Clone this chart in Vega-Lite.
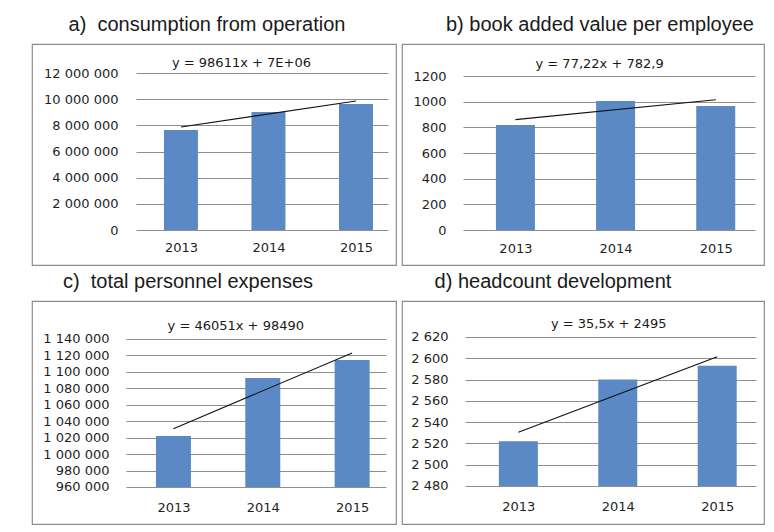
{
  "$schema": "https://vega.github.io/schema/vega-lite/v6.json",
  "background": "white",
  "padding": {"left": 31, "top": 14, "right": 5, "bottom": 2},
  "autosize": {"type": "pad"},
  "spacing": 5,
  "vconcat": [
    {
      "spacing": 4,
      "hconcat": [
        {
          "width": 364, "height": 221,
          "title": {"text": "a)\u00a0 consumption from operation", "dx": -7},
          "resolve": {"axis": {"x": "independent", "y": "independent"}},
          "layer": [
            {"data": {"values": [
              {"year": 2013, "value": 7640000},
              {"year": 2014, "value": 9020000},
              {"year": 2015, "value": 9630000}
            ]},
             "mark": {"type": "bar", "width": 34, "color": "#5b89c6"},
             "encoding": {
              "x": {"field": "year", "type": "quantitative", "title": null,
                "scale": {"domain": [2011.3556, 2015.4], "nice": false, "zero": false},
                "axis": {"values": [2013, 2014, 2015], "format": "d", "offset": -35, "ticks": false, "labelPadding": 11, "grid": false, "domain": false}},
              "y": {"field": "value", "type": "quantitative", "title": null,
                "scale": {"domain": [-2675159, 14216561], "nice": false, "zero": false},
                "axis": {"values": [0, 2000000, 4000000, 6000000, 8000000, 10000000, 12000000], "format": ",d", "offset": -104, "tickSize": -252, "labelPadding": 270, "grid": false, "domain": false, "labelOverlap": false}},
              "y2": {"datum": 0}
             }},
            {"data": {"values": [{"year": 2013, "value": 7873000}, {"year": 2015, "value": 9860000}]},
             "mark": {"type": "line", "color": "#111111", "strokeWidth": 1.1},
             "encoding": {"x": {"field": "year", "type": "quantitative", "axis": null}, "y": {"field": "value", "type": "quantitative", "axis": null}}},
            {"data": {"values": [{"label": "y = 98611x + 7E+06"}]},
             "mark": {"type": "text", "baseline": "bottom", "dx": -27, "dy": -3, "font": "DejaVu Sans", "fontSize": 13, "fill": "#1a1a1a"},
             "encoding": {"x": {"datum": 2014, "axis": null}, "y": {"datum": 12000000, "axis": null}, "text": {"field": "label", "type": "nominal"}}}
          ]
        },
        {
          "width": 362, "height": 221,
          "title": {"text": "b) book added value per employee", "dx": 17},
          "resolve": {"axis": {"x": "independent", "y": "independent"}},
          "layer": [
            {"data": {"values": [
              {"year": 2013, "value": 818},
              {"year": 2014, "value": 1005},
              {"year": 2015, "value": 966}
            ]},
             "mark": {"type": "bar", "width": 39, "color": "#5b89c6"},
             "encoding": {
              "x": {"field": "year", "type": "quantitative", "title": null,
                "scale": {"domain": [2011.9175, 2015.432], "nice": false, "zero": false},
                "axis": {"values": [2013, 2014, 2015], "format": "d", "offset": -35, "ticks": false, "labelPadding": 12, "grid": false, "domain": false}},
              "y": {"field": "value", "type": "quantitative", "title": null,
                "scale": {"domain": [-272.7, 1449.4], "nice": false, "zero": false},
                "axis": {"values": [0, 200, 400, 600, 800, 1000, 1200], "format": "d", "offset": -61, "tickSize": -292, "labelPadding": 309, "grid": false, "domain": false, "labelOverlap": false}},
              "y2": {"datum": 0}
             }},
            {"data": {"values": [{"year": 2013, "value": 860.1}, {"year": 2015, "value": 1014.5}]},
             "mark": {"type": "line", "color": "#111111", "strokeWidth": 1.1},
             "encoding": {"x": {"field": "year", "type": "quantitative", "axis": null}, "y": {"field": "value", "type": "quantitative", "axis": null}}},
            {"data": {"values": [{"label": "y = 77,22x + 782,9"}]},
             "mark": {"type": "text", "baseline": "bottom", "dx": -16, "dy": -5, "font": "DejaVu Sans", "fontSize": 13, "fill": "#1a1a1a"},
             "encoding": {"x": {"datum": 2014, "axis": null}, "y": {"datum": 1200, "axis": null}, "text": {"field": "label", "type": "nominal"}}}
          ]
        }
      ]
    },
    {
      "spacing": 4,
      "hconcat": [
        {
          "width": 364, "height": 223,
          "title": {"text": "c)\u00a0 total personnel expenses", "dx": -26},
          "resolve": {"axis": {"x": "independent", "y": "independent"}},
          "layer": [
            {"data": {"values": [
              {"year": 2013, "value": 1022000},
              {"year": 2014, "value": 1092600},
              {"year": 2015, "value": 1114500}
            ]},
             "mark": {"type": "bar", "width": 35, "color": "#5b89c6"},
             "encoding": {
              "x": {"field": "year", "type": "quantitative", "title": null,
                "scale": {"domain": [2011.473, 2015.435], "nice": false, "zero": false},
                "axis": {"values": [2013, 2014, 2015], "format": "d", "offset": -37, "ticks": false, "labelPadding": 14, "grid": false, "domain": false}},
              "y": {"field": "value", "type": "quantitative", "title": null,
                "scale": {"domain": [915000, 1186216], "nice": false, "zero": false},
                "axis": {"values": [960000, 980000, 1000000, 1020000, 1040000, 1060000, 1080000, 1100000, 1120000, 1140000], "format": ",d", "offset": -94, "tickSize": -260, "labelPadding": 277, "grid": false, "domain": false, "labelOverlap": false}},
              "y2": {"datum": 960000}
             }},
            {"data": {"values": [{"year": 2013, "value": 1030951}, {"year": 2015, "value": 1123053}]},
             "mark": {"type": "line", "color": "#111111", "strokeWidth": 1.1},
             "encoding": {"x": {"field": "year", "type": "quantitative", "axis": null}, "y": {"field": "value", "type": "quantitative", "axis": null}}},
            {"data": {"values": [{"label": "y = 46051x + 98490"}]},
             "mark": {"type": "text", "baseline": "bottom", "dx": -27, "dy": -6, "font": "DejaVu Sans", "fontSize": 13, "fill": "#1a1a1a"},
             "encoding": {"x": {"datum": 2014, "axis": null}, "y": {"datum": 1140000, "axis": null}, "text": {"field": "label", "type": "nominal"}}}
          ]
        },
        {
          "width": 362, "height": 223,
          "title": {"text": "d) headcount development", "dx": -30},
          "resolve": {"axis": {"x": "independent", "y": "independent"}},
          "layer": [
            {"data": {"values": [
              {"year": 2013, "value": 2522},
              {"year": 2014, "value": 2580},
              {"year": 2015, "value": 2593}
            ]},
             "mark": {"type": "bar", "width": 39, "color": "#5b89c6"},
             "encoding": {
              "x": {"field": "year", "type": "quantitative", "title": null,
                "scale": {"domain": [2011.88, 2015.4205], "nice": false, "zero": false},
                "axis": {"values": [2013, 2014, 2015], "format": "d", "offset": -38, "ticks": false, "labelPadding": 14, "grid": false, "domain": false}},
              "y": {"field": "value", "type": "quantitative", "title": null,
                "scale": {"domain": [2444.3, 2653.8], "nice": false, "zero": false},
                "axis": {"values": [2480, 2500, 2520, 2540, 2560, 2580, 2600, 2620], "format": ",d", "offset": -63, "tickSize": -291, "labelPadding": 308, "grid": false, "domain": false, "labelOverlap": false}},
              "y2": {"datum": 2480}
             }},
            {"data": {"values": [{"year": 2013, "value": 2530.5}, {"year": 2015, "value": 2601.5}]},
             "mark": {"type": "line", "color": "#111111", "strokeWidth": 1.1},
             "encoding": {"x": {"field": "year", "type": "quantitative", "axis": null}, "y": {"field": "value", "type": "quantitative", "axis": null}}},
            {"data": {"values": [{"label": "y = 35,5x + 2495"}]},
             "mark": {"type": "text", "baseline": "bottom", "dx": -9, "dy": -6, "font": "DejaVu Sans", "fontSize": 13, "fill": "#1a1a1a"},
             "encoding": {"x": {"datum": 2014, "axis": null}, "y": {"datum": 2620, "axis": null}, "text": {"field": "label", "type": "nominal"}}}
          ]
        }
      ]
    }
  ],
  "config": {
    "locale": {"number": {"decimal": ",", "thousands": " ", "grouping": [3], "currency": ["", ""]}},
    "view": {"stroke": "#8c8c8c", "strokeWidth": 1.2},
    "axis": {"labelFont": "DejaVu Sans", "labelFontSize": 13, "labelColor": "#1f1f1f", "tickColor": "#8f8f8f", "tickWidth": 1, "zindex": 0, "labelBound": false},
    "title": {"font": "Liberation Sans", "fontSize": 20, "fontWeight": "normal", "color": "#1a1a1a", "anchor": "middle", "offset": 9, "baseline": "alphabetic"}
  }
}
